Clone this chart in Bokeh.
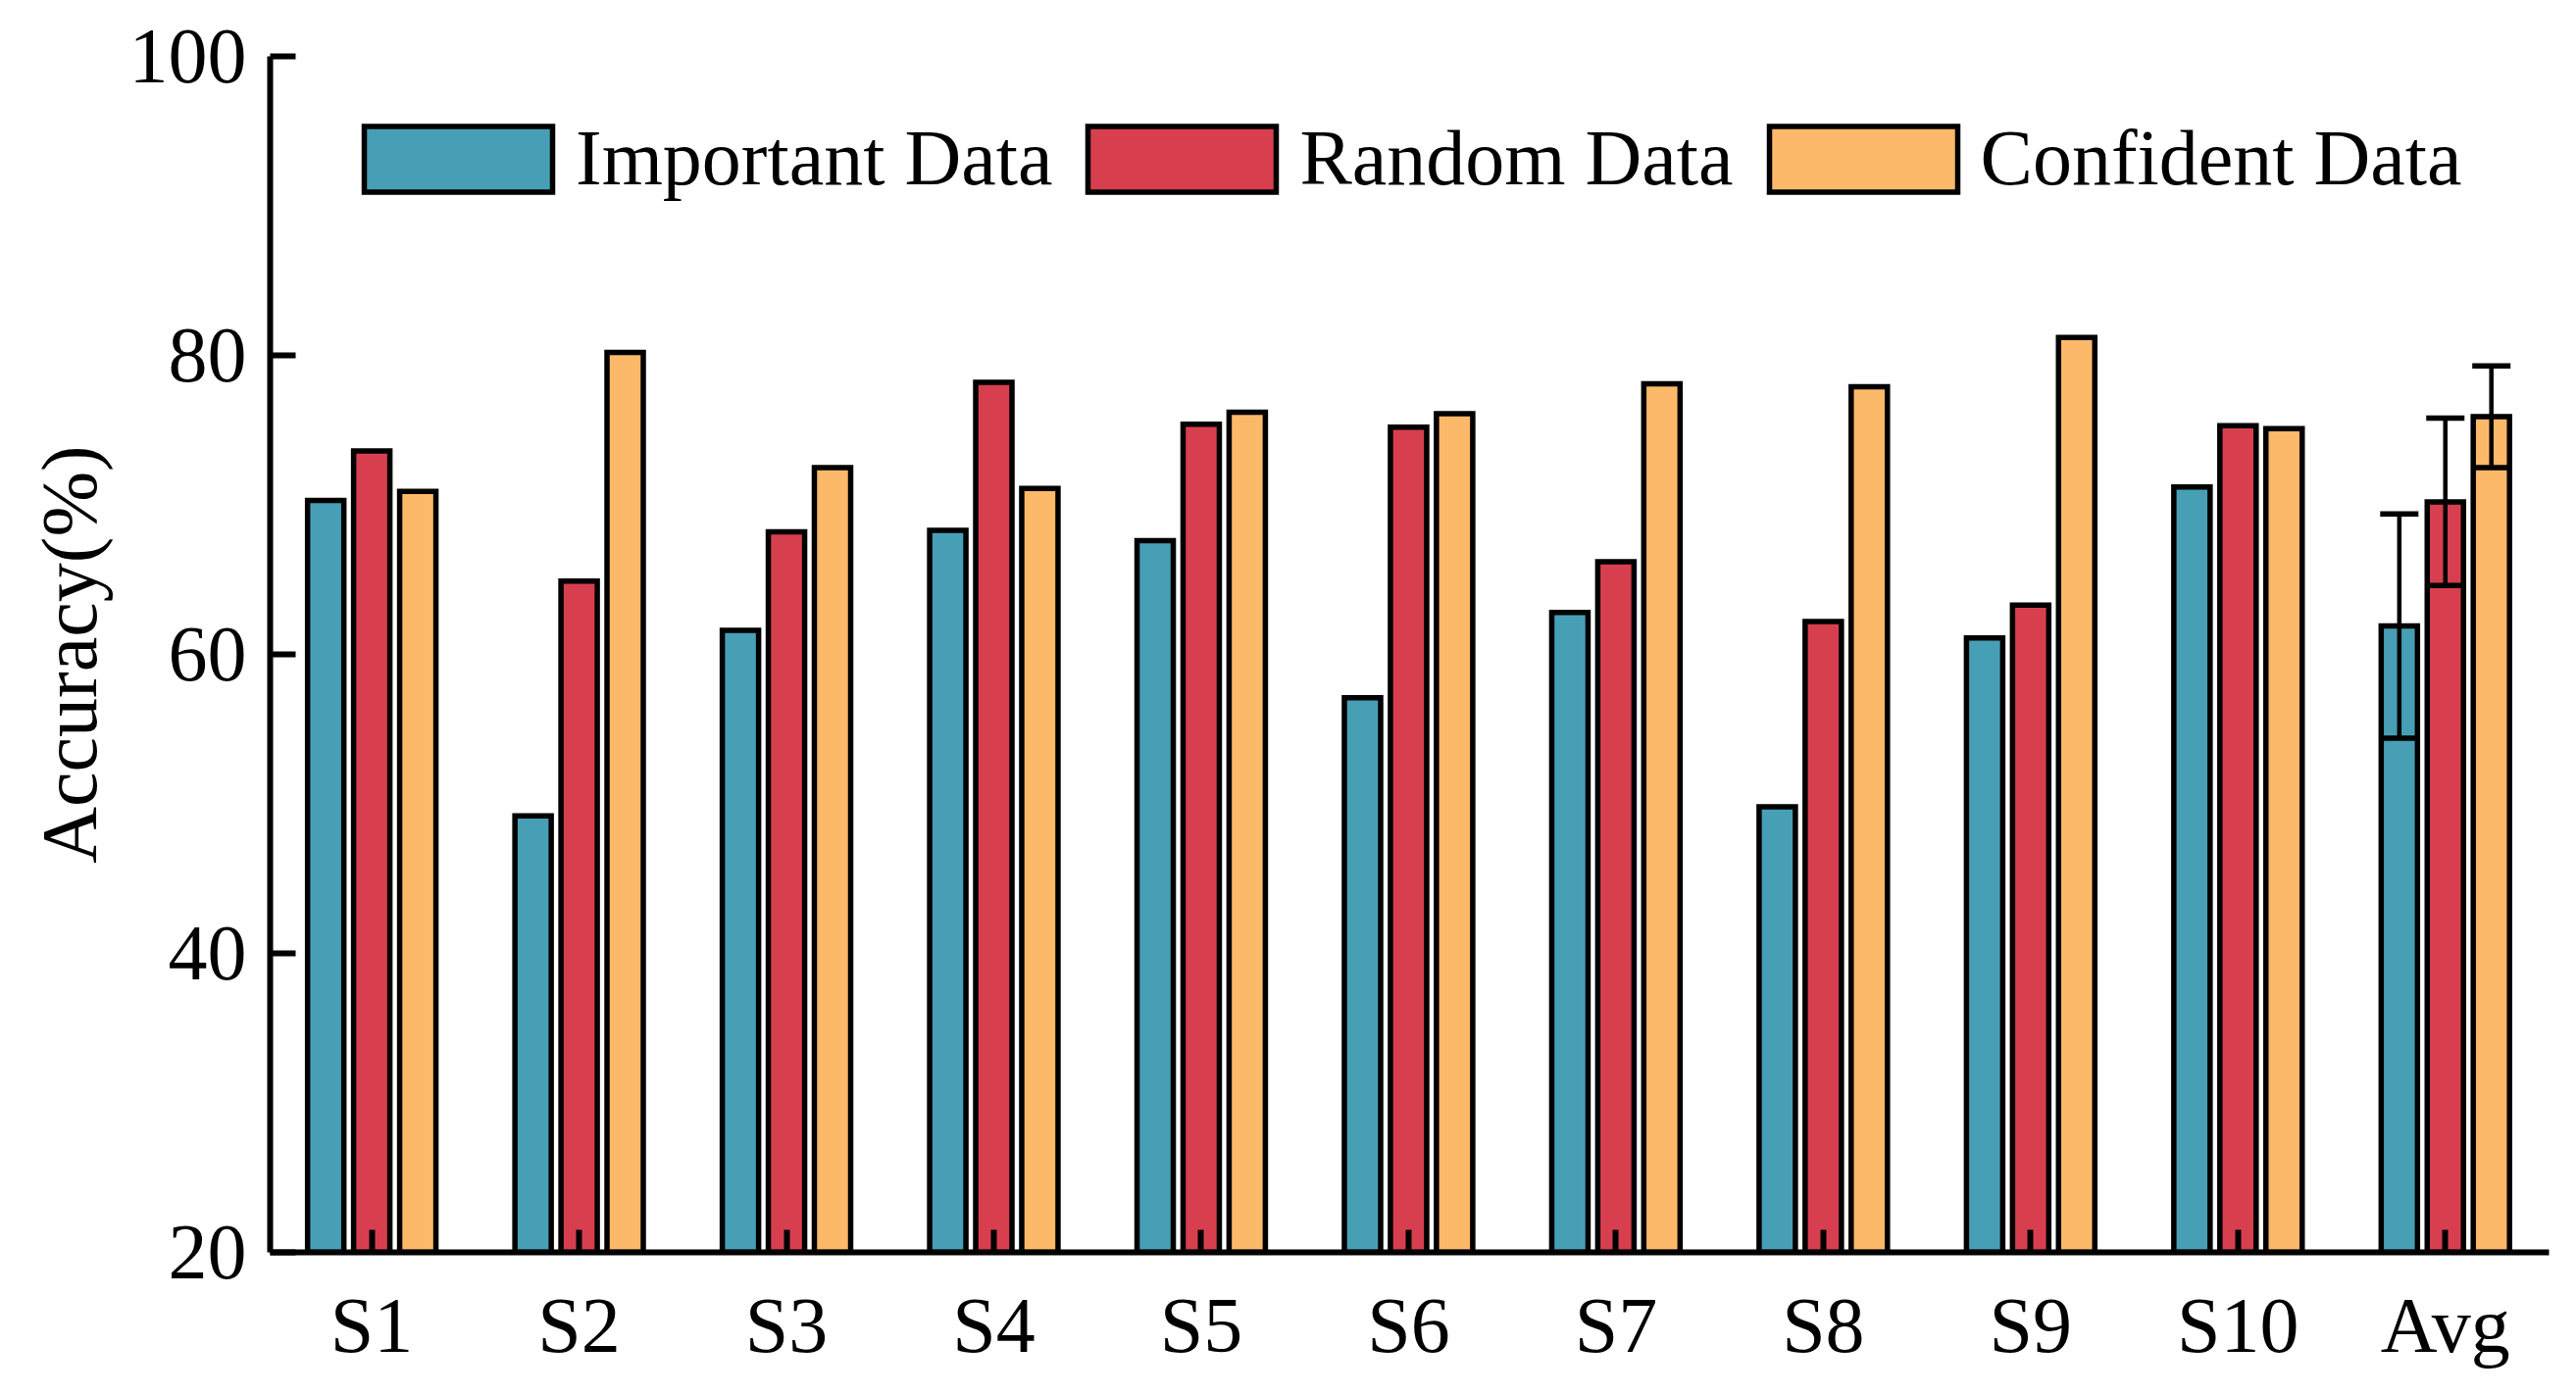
from bokeh.plotting import figure
from bokeh.models import (ColumnDataSource, FixedTicker, Legend, LegendItem,
                          Whisker, TeeHead, Range1d)
from bokeh.embed import file_html
from bokeh.resources import INLINE

# ---------------- data ----------------
categories = ["S1", "S2", "S3", "S4", "S5", "S6", "S7", "S8", "S9", "S10", "Avg"]
important_data = [70.3, 49.2, 61.6, 68.3, 67.6, 57.1, 62.8, 49.8, 61.1, 71.2, 61.9]
random_data = [73.6, 64.9, 68.2, 78.2, 75.4, 75.2, 66.2, 62.2, 63.3, 75.3, 70.2]
confident_data = [70.9, 80.2, 72.5, 71.1, 76.2, 76.1, 78.1, 77.9, 81.2, 75.1, 75.9]
# error (std) shown only on the "Avg" group
avg_errors = [7.5, 5.6, 3.4]
series_names = ["Important Data", "Random Data", "Confident Data"]
y_ticks = [20, 40, 60, 80, 100]

colors = ["#479FB6", "#D73F4F", "#FDB96A"]
series = [important_data, random_data, confident_data]
offsets = [-0.222, 0.0, 0.222]
bar_w = 0.175
FONT = "Liberation Serif"
FS = "80px"

p = figure(frame_width=2324, frame_height=1220,
           min_border_left=275, min_border_right=11,
           min_border_top=57, min_border_bottom=130,
           x_range=Range1d(-0.49, 10.5), y_range=Range1d(20, 100),
           output_backend="svg", toolbar_location=None)

idx = list(range(len(categories)))
renderers = []
for vals, off, col in zip(series, offsets, colors):
    src = ColumnDataSource(dict(x=[i + off for i in idx], top=vals))
    r = p.vbar(x="x", top="top", bottom=20, width=bar_w, source=src,
               fill_color=col, line_color="black", line_width=5.5,
               line_join="miter")
    renderers.append(r)

# error bars on Avg
avg_i = categories.index("Avg")
avg_vals = [s[avg_i] for s in series]
esrc = ColumnDataSource(dict(
    base=[avg_i + o for o in offsets],
    upper=[v + e for v, e in zip(avg_vals, avg_errors)],
    lower=[v - e for v, e in zip(avg_vals, avg_errors)],
))
wh = Whisker(base="base", upper="upper", lower="lower", source=esrc,
             dimension="height", line_width=4.5, line_color="black",
             level="overlay",
             upper_head=TeeHead(size=39, line_width=5.5, line_color="black"),
             lower_head=TeeHead(size=39, line_width=5.5, line_color="black"))
p.add_layout(wh)

# legend
legend = Legend(items=[LegendItem(label=n, renderers=[r])
                       for n, r in zip(series_names, renderers)],
                orientation="horizontal", location=(72, 1070),
                glyph_width=240, glyph_height=84, label_standoff=0,
                spacing=12, padding=0, margin=0,
                border_line_alpha=0, background_fill_alpha=0,
                label_text_font=FONT, label_text_font_size=FS,
                label_text_color="black")
p.add_layout(legend)

# axes
p.xgrid.visible = False
p.ygrid.visible = False
p.outline_line_alpha = 0

xa = p.xaxis[0]
xa.ticker = FixedTicker(ticks=idx)
xa.major_label_overrides = {i: c for i, c in zip(idx, categories)}
xa.major_tick_in = 23
xa.major_tick_out = 0
xa.minor_tick_line_alpha = 0
xa.major_label_standoff = 30

ya = p.yaxis[0]
ya.ticker = FixedTicker(ticks=y_ticks)
ya.major_tick_in = 26
ya.major_tick_out = 0
ya.minor_tick_line_alpha = 0
ya.major_label_standoff = 24
ya.axis_label = "Accuracy(%)"
ya.axis_label_standoff = 14
ya.axis_label_text_font_style = "normal"

for ax in (xa, ya):
    ax.axis_line_width = 6
    ax.axis_line_color = "black"
    ax.major_tick_line_width = 6
    ax.major_tick_line_color = "black"
    ax.major_label_text_font = FONT
    ax.major_label_text_font_size = FS
    ax.major_label_text_color = "black"
    ax.axis_label_text_font = FONT
    ax.axis_label_text_font_size = FS
    ax.axis_label_text_color = "black"

open("out.html", "w").write(file_html(p, INLINE))
